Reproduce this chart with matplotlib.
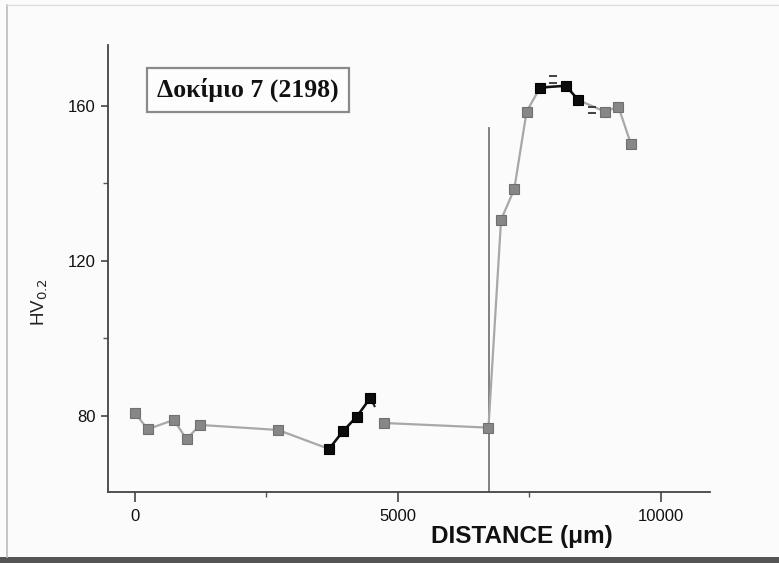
import matplotlib
matplotlib.use("Agg")
import matplotlib.pyplot as plt
from matplotlib.lines import Line2D
from matplotlib.patches import Rectangle
from matplotlib.ticker import MultipleLocator

# ---- data ----
distance = [0, 240, 740, 980, 1235, 2720, 3690, 3955, 4215, 4470, 4735,
            6720, 6960, 7210, 7445, 7700, 8190, 8430, 8935, 9190, 9430]
hardness = [80.8, 76.6, 79.0, 74.0, 77.7, 76.4, 71.5, 76.1, 79.8, 84.6, 78.2,
            77.0, 130.6, 138.5, 158.5, 164.7, 165.2, 161.5, 158.5, 159.8, 150.1]
is_black = [0, 0, 0, 0, 0, 0, 1, 1, 1, 1, 0,
            0, 0, 0, 0, 1, 1, 1, 0, 0, 0]
# indices where the connecting line is interrupted (between i and i+1)
line_breaks = [9]
# small dash marks near the peak
dash_x = [7950, 7950, 8680, 8680]
dash_y = [167.8, 166.0, 159.8, 158.1]
# vertical interface line
interface_x = 6730
interface_top = 154.3

title_text = "Δοκίμιο 7 (2198)"
x_ticks = [0, 5000, 10000]
y_ticks = [80, 120, 160]

fig = plt.figure(figsize=(7.79, 5.63), dpi=100, facecolor="#fbfbfb")
ax = fig.add_axes([108/779, 1-492/563, 602/779, 447/563])
ax.set_facecolor("#fbfbfb")

ax.set_xlim(-513, 10932)
ax.set_ylim(60.4, 175.7)

# interface line
ax.plot([interface_x, interface_x], [60.4, interface_top], color="#777777", lw=1.3, zorder=1)

# grey connecting line, broken where the original is broken
start = 0
for b in line_breaks + [len(distance) - 1]:
    ax.plot(distance[start:b + 1], hardness[start:b + 1], color="#a8a8a8", lw=1.6, zorder=2)
    start = b + 1

# black line segments
def groups(flags):
    out, cur = [], []
    for i, f in enumerate(flags):
        if f:
            cur.append(i)
        else:
            if cur:
                out.append(cur)
            cur = []
    if cur:
        out.append(cur)
    return out

for g in groups(is_black):
    ax.plot([distance[i] for i in g], [hardness[i] for i in g], color="#111111", lw=1.8, zorder=3)

# short black stub after the break
for b in line_breaks:
    x0, y0 = distance[b], hardness[b]
    x1, y1 = distance[b + 1], hardness[b + 1]
    ax.plot([x0 + 0.15 * (x1 - x0), x0 + 0.32 * (x1 - x0)],
            [y0 + 0.15 * (y1 - y0), y0 + 0.32 * (y1 - y0)], color="#222222", lw=1.5, zorder=3)

gx = [d for d, b in zip(distance, is_black) if not b]
gy = [h for h, b in zip(hardness, is_black) if not b]
bx = [d for d, b in zip(distance, is_black) if b]
by = [h for h, b in zip(hardness, is_black) if b]
ax.plot(gx, gy, linestyle="none", marker="s", ms=6.8, mfc="#878787", mec="#707070", mew=0.8, zorder=4)
ax.plot(bx, by, linestyle="none", marker="s", ms=7.6, mfc="#0c0c0c", mec="#000000", mew=0.8, zorder=5)
ax.plot(dash_x, dash_y, linestyle="none", marker="_", ms=5.5, mew=1.3, color="#333333", zorder=5)

# spines
for s in ("top", "right"):
    ax.spines[s].set_visible(False)
for s in ("left", "bottom"):
    ax.spines[s].set_color("#444444")
    ax.spines[s].set_linewidth(1.3)

ax.set_xticks(x_ticks)
ax.set_yticks(y_ticks)
ax.xaxis.set_minor_locator(MultipleLocator(2500))
ax.yaxis.set_minor_locator(MultipleLocator(20))
ax.tick_params(axis="both", which="major", direction="out", color="#444444", width=1.2,
               labelsize=12, labelcolor="#111111")
ax.tick_params(axis="x", which="major", length=7, pad=5)
ax.tick_params(axis="y", which="major", length=5, pad=4)
ax.tick_params(axis="both", which="minor", direction="out", length=3.5, width=1.0, color="#555555")
for lab in ax.get_xticklabels() + ax.get_yticklabels():
    lab.set_family("Liberation Sans")

ax.set_xlabel("DISTANCE (μm)", fontsize=17.5, fontweight="bold", family="Liberation Sans", color="#111111")
ax.xaxis.set_label_coords((522-108)/602, -(536-492)/447, transform=ax.transAxes)
ax.xaxis.label.set_va("center")
ax.set_ylabel("HV$_{0.2}$", fontsize=13.5, family="Liberation Sans", color="#222222")
ax.yaxis.set_label_coords((50-108)/602, (492-302)/447)

# title box
ax.text((248-108)/602, (492-90)/447, title_text, transform=ax.transAxes,
        ha="center", va="center", fontsize=18.5, fontweight="bold", family="Liberation Serif",
        color="#111111",
        bbox=dict(boxstyle="square,pad=0.4", fc="#fdfdfd", ec="#8a8a8a", lw=1.6))

# scan frame
fig.add_artist(Line2D([7/779, 7/779], [1-557/563, 1-5/563], transform=fig.transFigure, color="#bbbbbb", lw=1.2))
fig.add_artist(Line2D([7/779, 1], [1-5/563, 1-5/563], transform=fig.transFigure, color="#dddddd", lw=1.0))
fig.add_artist(Rectangle((0, 0), 1, 6/563, transform=fig.transFigure, color="#555555", lw=0))

fig.savefig("out.png", dpi=100, facecolor=fig.get_facecolor())
